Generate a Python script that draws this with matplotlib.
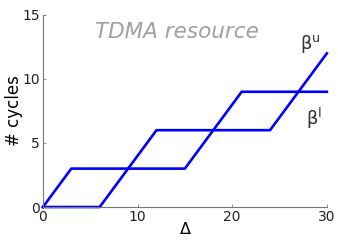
import matplotlib.pyplot as plt

plt.rcParams['mathtext.default'] = 'regular'

# corner points of the two bounds
delta_u = [0, 3, 9, 12, 18, 21, 27, 30]
cycles_u = [0, 3, 3, 6, 6, 9, 9, 12]
delta_l = [0, 6, 9, 15, 18, 24, 27, 30]
cycles_l = [0, 0, 3, 3, 6, 6, 9, 9]

x_ticks = [0, 10, 20, 30]
y_ticks = [0, 5, 10, 15]

fig = plt.figure(figsize=(3.38, 2.41), dpi=100)
ax = fig.add_axes((0.127, 0.141, 0.840, 0.797))

ax.plot(delta_u, cycles_u, color='#0000ff', linewidth=1.9, clip_on=False)
ax.plot(delta_l, cycles_l, color='#0000ff', linewidth=1.9, clip_on=False)

ax.set_xlim(0, 30)
ax.set_ylim(0, 15)
ax.set_xticks(x_ticks)
ax.set_yticks(y_ticks)
ax.tick_params(direction='in', length=2, width=0.6, colors='#777777',
               labelcolor='#222222', labelsize=10, pad=2)

for side in ('top', 'right'):
    ax.spines[side].set_visible(False)
for side in ('left', 'bottom'):
    ax.spines[side].set_color('#777777')
    ax.spines[side].set_linewidth(0.8)

ax.set_xlabel('Δ', fontsize=11.5, labelpad=-1)
ax.set_ylabel('# cycles', fontsize=12, labelpad=0)

ax.text(14.2, 13.65, 'TDMA resource', style='italic', color='#a0a0a0',
        fontsize=15.5, ha='center', va='center')
ax.text(28.3, 12.7, r'$\beta^{u}$', fontsize=13, ha='center', va='center',
        color='#333333')
ax.text(28.7, 6.9, r'$\beta^{l}$', fontsize=13, ha='center', va='center',
        color='#333333')

fig.savefig('out.png', dpi=100)
